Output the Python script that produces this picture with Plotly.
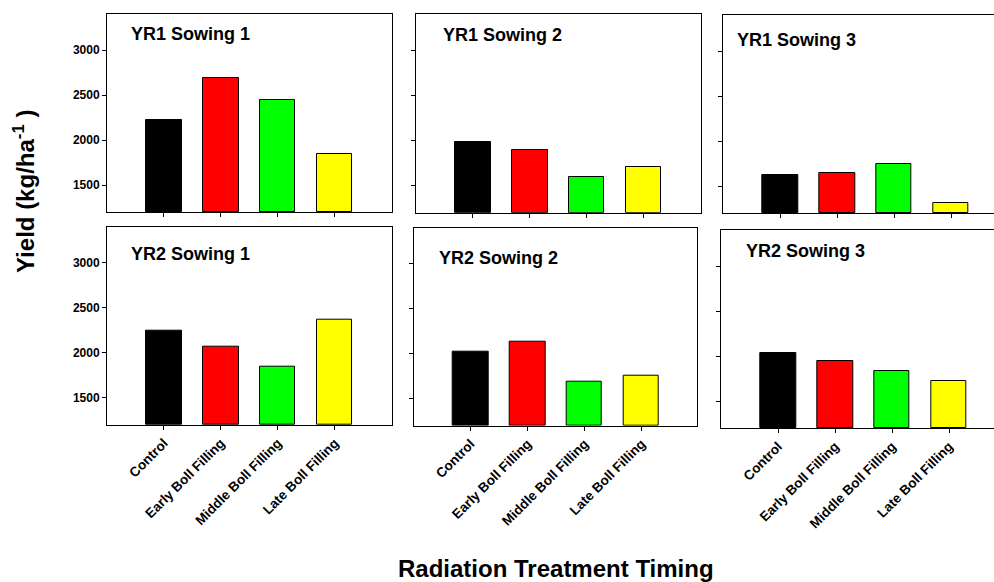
import plotly.graph_objects as go

# Treatment categories and bar colours
treatments = ["Control", "Early Boll Filling", "Middle Boll Filling", "Late Boll Filling"]
bar_colors = ["#000000", "#ff0000", "#00ff00", "#ffff00"]

# Lint yield (kg/ha) per year and sowing date
yr1_sowing1 = [2222, 2689, 2451, 1844]
yr1_sowing2 = [1985, 1890, 1592, 1703]
yr1_sowing3 = [1622, 1644, 1748, 1319]
yr2_sowing1 = [2244, 2067, 1844, 2363]
yr2_sowing2 = [2022, 2130, 1689, 1759]
yr2_sowing3 = [2032, 1947, 1832, 1728]

panel_titles = ["YR1 Sowing 1", "YR1 Sowing 2", "YR1 Sowing 3",
                "YR2 Sowing 1", "YR2 Sowing 2", "YR2 Sowing 3"]
panel_values = [yr1_sowing1, yr1_sowing2, yr1_sowing3,
                yr2_sowing1, yr2_sowing2, yr2_sowing3]

y_ticks = [1500, 2000, 2500, 3000]
y_range = [1200, 3400]

W, H = 994, 582
FONT = "Liberation Sans, Arial, Helvetica, sans-serif"
unit = 56.94  # pixels per category slot

# panel boxes in pixels: (left, right, top, bottom)
boxes = [
    (107, 391.7, 14, 212.3),
    (416, 700.7, 14, 212.7),
    (723.3, 994, 15, 213.3),
    (107, 391.7, 226.7, 425),
    (413.7, 697.3, 227.7, 425.7),
    (721.3, 994, 230, 428.3),
]
# title anchor positions (left x, middle y) in pixels
title_pos = [(129, 34), (441, 35), (735, 40), (129, 254), (437, 258), (744, 251)]

fig = go.Figure()
layout = dict(
    width=W, height=H, autosize=False,
    margin=dict(l=0, r=0, t=0, b=0),
    paper_bgcolor="white", plot_bgcolor="white",
    showlegend=False, bargap=0,
    font=dict(family=FONT, color="black"),
)
annotations = []

for i, (vals, title, box) in enumerate(zip(panel_values, panel_titles, boxes)):
    n = i + 1
    xa = "x" if n == 1 else f"x{n}"
    ya = "y" if n == 1 else f"y{n}"
    left, right, top, bottom = box
    row, col = divmod(i, 3)
    fig.add_trace(go.Bar(
        x=[1, 2, 3, 4], y=[v - y_range[0] for v in vals], base=y_range[0],
        width=0.62,
        marker=dict(color=bar_colors, line=dict(color="black", width=1)),
        xaxis=xa, yaxis=ya, hoverinfo="skip",
    ))
    x_hi = (right - left) / unit
    clipped = right >= W  # right-hand panels run off the page edge
    layout["xaxis" if n == 1 else f"xaxis{n}"] = dict(
        domain=[left / W, min(right / W, 1.0)],
        range=[0, x_hi],
        anchor=ya,
        tickmode="array", tickvals=[1, 2, 3, 4], ticktext=treatments,
        showticklabels=(row == 1), tickangle=-45,
        tickfont=dict(family=FONT, size=13.5, color="black", weight="bold"),
        ticks="outside", ticklen=4, tickcolor="black", tickwidth=1,
        showline=True, linecolor="black", linewidth=1, mirror=True,
        showgrid=False, zeroline=False, fixedrange=True,
    )
    layout["yaxis" if n == 1 else f"yaxis{n}"] = dict(
        domain=[1 - bottom / H, 1 - top / H],
        range=y_range,
        anchor=xa,
        tickmode="array", tickvals=y_ticks,
        showticklabels=(col == 0),
        tickfont=dict(family=FONT, size=12, color="black", weight="bold"),
        ticks="outside", ticklen=4, tickcolor="black", tickwidth=1,
        showline=True, linecolor="black", linewidth=1,
        mirror=not clipped,
        showgrid=False, zeroline=False, fixedrange=True,
    )
    tx, ty = title_pos[i]
    annotations.append(dict(
        text=title, x=tx / W, y=1 - ty / H, xref="paper", yref="paper",
        xanchor="left", yanchor="middle", showarrow=False,
        font=dict(family=FONT, size=18, color="black", weight="bold"),
    ))

annotations.append(dict(
    text="Radiation Treatment Timing", x=556 / W, y=1 - 568 / H,
    xref="paper", yref="paper", xanchor="center", yanchor="middle",
    showarrow=False, font=dict(family=FONT, size=24, color="black", weight="bold"),
))
annotations.append(dict(
    text="Yield (kg/ha<sup>-1</sup> )", x=24 / W, y=1 - 192 / H,
    xref="paper", yref="paper", xanchor="center", yanchor="middle",
    textangle=-90, showarrow=False,
    font=dict(family=FONT, size=24, color="black", weight="bold"),
))
layout["annotations"] = annotations

fig.update_layout(**layout)
fig.write_html("out.html")
